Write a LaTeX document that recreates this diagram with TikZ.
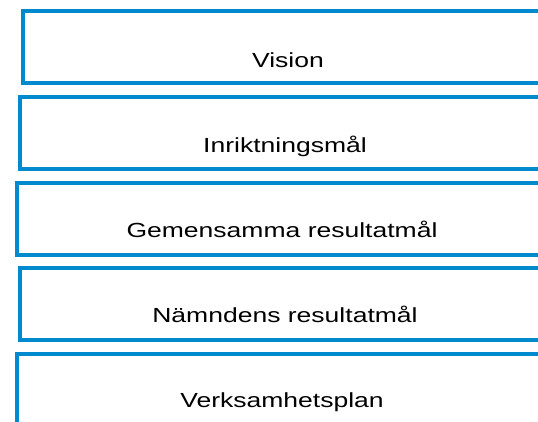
\documentclass[tikz,border=0pt]{standalone}
\usepackage{fontspec}
\setmainfont{Liberation Sans}
\usepackage{graphicx}
\definecolor{boxblue}{RGB}{0,138,206}
\begin{document}
\begin{tikzpicture}[x=1pt,y=-1pt,
  boxline/.style={draw=boxblue, line width=4pt},
  lbl/.style={anchor=base, inner sep=0pt, font=\fontsize{20.4}{24}\selectfont},
  ]
\useasboundingbox (0,0) rectangle (538,422);
\fill[white] (0,0) rectangle (538,422);
\begin{scope}
\clip (0,0) rectangle (538,422);
\draw[boxline] (560,11)  -- (23,11)  -- (23,83)    -- (560,83);
\draw[boxline] (560,97)  -- (20,97)  -- (20,169.5) -- (560,169.5);
\draw[boxline] (560,183) -- (17,183) -- (17,255)   -- (560,255);
\draw[boxline] (560,268) -- (20,268) -- (20,340)   -- (560,340);
\draw[boxline] (560,354) -- (17,354) -- (17,440);
\end{scope}
\node[lbl] (t1) at (288,67.3) {\scalebox{1.3}[1]{Vision}};
\node[lbl] (t2) at (285,152.5) {\scalebox{1.3}[1]{Inriktningsmål}};
\node[lbl] (t3) at (282,237.3) {\scalebox{1.3}[1]{Gemensamma resultatmål}};
\node[lbl] (t4) at (285,322.5) {\scalebox{1.3}[1]{Nämndens resultatmål}};
\node[lbl] (t5) at (282,407.3) {\scalebox{1.3}[1]{Verksamhetsplan}};
\end{tikzpicture}
\end{document}
